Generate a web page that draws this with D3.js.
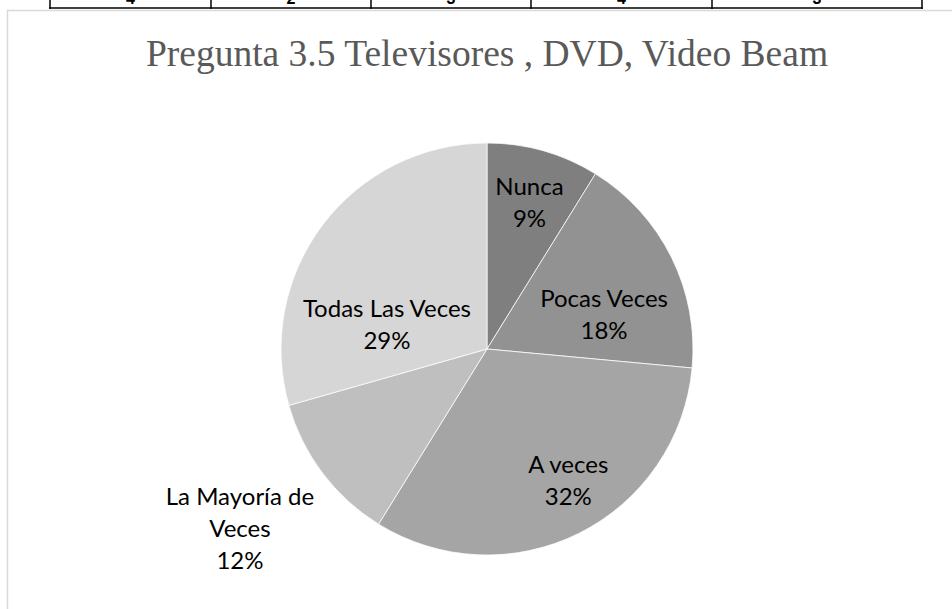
<!DOCTYPE html>
<html>
<head>
<meta charset="utf-8">
<script src="https://cdn.jsdelivr.net/npm/d3@7"></script>
<style>
	body { margin: 0; background: #fff; }
	svg { display: block; }
</style>
</head>
<body>
<svg id="chart" width="952" height="609"></svg>
<script>
// survey answers (counts, n = 34)
var categories = ["Nunca", "Pocas Veces", "A veces", "La Mayoría de Veces", "Todas Las Veces"];
var counts = [3, 6, 11, 4, 10];
var percentLabels = ["9%", "18%", "32%", "12%", "29%"];
var labelLines = [["Nunca"], ["Pocas Veces"], ["A veces"], ["La Mayoría de", "Veces"], ["Todas Las Veces"]];
var sliceColors = ["#7f7f7f", "#929292", "#a5a5a5", "#bfbfbf", "#d6d6d6"];
// leftover strip of the table above the chart
var tableCols = [50, 211, 371, 531, 712, 922];
var tableBits = ["4", "2", "3", "4", "3"];

var svg = d3.select("#chart");

// table remnant on top of the page
var tbl = svg.append("g");
tbl.selectAll("text.bit").data(tableBits).enter().append("text")
	.attr("x", function(d, i) { return (tableCols[i] + tableCols[i + 1]) / 2; })
	.attr("y", 4)
	.attr("text-anchor", "middle")
	.attr("font-family", "Liberation Sans, Arial, sans-serif")
	.attr("font-weight", "bold")
	.attr("font-size", "16px")
	.attr("fill", "#000")
	.text(function(d) { return d; });
tbl.selectAll("line.col").data(tableCols).enter().append("line")
	.attr("x1", function(d) { return d; })
	.attr("x2", function(d) { return d; })
	.attr("y1", 0)
	.attr("y2", 9)
	.attr("stroke", "#000")
	.attr("stroke-width", 1.5);
tbl.append("line")
	.attr("x1", tableCols[0] - 0.75)
	.attr("x2", tableCols[tableCols.length - 1] + 0.75)
	.attr("y1", 8)
	.attr("y2", 8)
	.attr("stroke", "#000")
	.attr("stroke-width", 1.5);

// chart area frame (runs off the right and bottom of the picture)
svg.append("rect")
	.attr("x", 7.5)
	.attr("y", 10.5)
	.attr("width", 1000)
	.attr("height", 700)
	.attr("fill", "#fff")
	.attr("stroke", "#d9d9d9")
	.attr("stroke-width", 1.5);

svg.append("text")
	.attr("x", 487)
	.attr("y", 66)
	.attr("text-anchor", "middle")
	.attr("font-family", "Liberation Serif, Times New Roman, serif")
	.attr("font-size", "37.5px")
	.attr("fill", "#595959")
	.text("Pregunta 3.5 Televisores , DVD, Video Beam");

var cx = 487, cy = 349, radius = 206;

var pie = d3.pie().sort(null).value(function(d) { return d; });
var arc = d3.arc().innerRadius(0).outerRadius(radius);
var labelArc = d3.arc().innerRadius(radius * 0.7).outerRadius(radius * 0.7);

// Excel "best fit" nudges for each label, relative to the label arc centroid
var labelNudge = [[3, -7], [-12, 30], [17, 3], [-132, 93], [15, 63]];

var g = svg.append("g").attr("transform", "translate(" + cx + "," + cy + ")");
var arcs = pie(counts);

g.selectAll("path.slice").data(arcs).enter().append("path")
	.classed("slice", 1)
	.attr("d", arc)
	.attr("fill", function(d, i) { return sliceColors[i]; })
	.attr("stroke", "#fff")
	.attr("stroke-width", 0.75);

var lineH = 32;
var labels = g.selectAll("text.lbl").data(arcs).enter().append("text")
	.classed("lbl", 1)
	.attr("text-anchor", "middle")
	.attr("font-family", "Lato, Open Sans, sans-serif")
	.attr("font-size", "24px")
	.attr("fill", "#000")
	.each(function(d, i)
	{
		var c = labelArc.centroid(d);
		var x = c[0] + labelNudge[i][0];
		var y = c[1] + labelNudge[i][1];
		var lines = labelLines[i].concat([percentLabels[i]]);
		var top = y + 8 - (lines.length - 1) * lineH / 2;
		var t = d3.select(this);
		lines.forEach(function(s, k)
		{
			t.append("tspan").attr("x", x).attr("y", top + k * lineH).text(s);
		});
	});
</script>
</body>
</html>
